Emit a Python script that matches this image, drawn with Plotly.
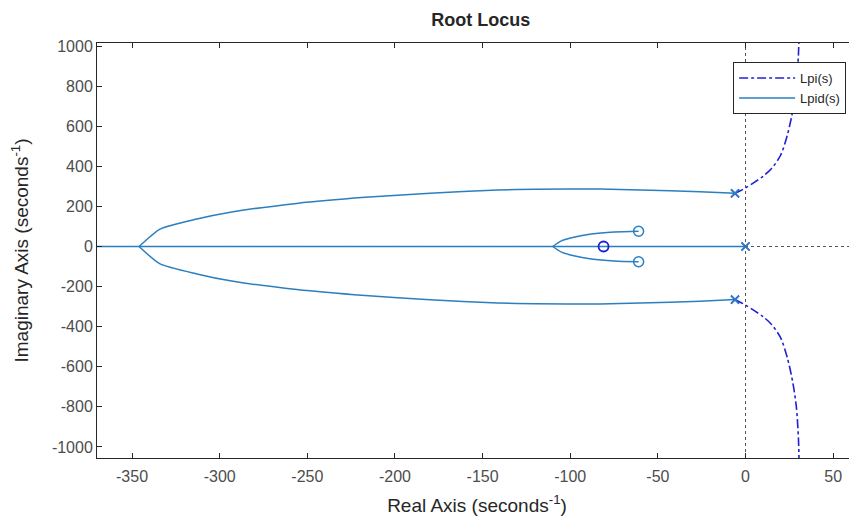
import plotly.graph_objects as go

# ---- data ----
# Lpid(s) root locus branches
lpid_outer_re = [-6, -26, -60, -83, -120, -141.5, -180, -217, -256, -294, -313, -334, -346]
lpid_outer_im = [265, 273, 282, 287, 286, 282, 266, 245, 215, 171, 137, 87, 0]
lpid_inner_re = [-110, -105, -98, -88, -75, -61]
lpid_inner_im = [0, 28, 46, 62, 72, 76]
lpid_axis_re = [-400, -346, -110, -81, 0]
lpid_axis_im = [0, 0, 0, 0, 0]
lpid_pole_re = [-6, -6, 0]
lpid_pole_im = [265, -265, 0]
lpid_zero_re = [-61, -61]
lpid_zero_im = [76, -76]

# Lpi(s) root locus branches
lpi_re = [-6, -3, 0, 5, 10, 15, 20, 24, 27, 29, 30.2, 30.6]
lpi_im = [265, 278, 292, 320, 350, 390, 455, 560, 680, 800, 960, 1100]
lpi_pole_re = [-6, -6, 0]
lpi_pole_im = [265, -265, 0]
lpi_zero_re = [-81]
lpi_zero_im = [0]

x_ticks = [-350, -300, -250, -200, -150, -100, -50, 0, 50]
y_ticks = [-1000, -800, -600, -400, -200, 0, 200, 400, 600, 800, 1000]
x_range = [-370, 63.6]
y_range = [-1055, 1015]

LPID = "#2a7fc0"
LPI = "#2020d8"
GRAY = "#555555"
FONT = "Liberation Sans, Arial, sans-serif"

fig = go.Figure()

# reference dotted axes lines
fig.add_trace(go.Scatter(x=[0, 0], y=[y_range[0], y_range[1]], mode="lines",
                         line=dict(color=GRAY, width=1, dash="dot"), showlegend=False, hoverinfo="skip"))
fig.add_trace(go.Scatter(x=[x_range[0], x_range[1]], y=[0, 0], mode="lines",
                         line=dict(color=GRAY, width=1, dash="dot"), showlegend=False, hoverinfo="skip"))

# Lpi(s)
fig.add_trace(go.Scatter(x=lpi_re, y=lpi_im, mode="lines", name="Lpi(s)", legendgroup="lpi",
                         line=dict(color=LPI, width=1.6, dash="dashdot", shape="spline", smoothing=0.8)))
fig.add_trace(go.Scatter(x=lpi_re, y=[-v for v in lpi_im], mode="lines", legendgroup="lpi", showlegend=False,
                         line=dict(color=LPI, width=1.6, dash="dashdot", shape="spline", smoothing=0.8)))

# Lpid(s)
fig.add_trace(go.Scatter(x=lpid_outer_re, y=lpid_outer_im, mode="lines", name="Lpid(s)", legendgroup="lpid",
                         line=dict(color=LPID, width=1.5, shape="spline", smoothing=0.6)))
fig.add_trace(go.Scatter(x=lpid_outer_re, y=[-v for v in lpid_outer_im], mode="lines", legendgroup="lpid",
                         showlegend=False, line=dict(color=LPID, width=1.5, shape="spline", smoothing=0.6)))
fig.add_trace(go.Scatter(x=lpid_inner_re, y=lpid_inner_im, mode="lines", legendgroup="lpid",
                         showlegend=False, line=dict(color=LPID, width=1.5, shape="spline", smoothing=0.8)))
fig.add_trace(go.Scatter(x=lpid_inner_re, y=[-v for v in lpid_inner_im], mode="lines", legendgroup="lpid",
                         showlegend=False, line=dict(color=LPID, width=1.5, shape="spline", smoothing=0.8)))
fig.add_trace(go.Scatter(x=lpid_axis_re, y=lpid_axis_im, mode="lines", legendgroup="lpid",
                         showlegend=False, line=dict(color=LPID, width=1.5)))

# markers
fig.add_trace(go.Scatter(x=lpi_pole_re, y=lpi_pole_im, mode="markers", showlegend=False,
                         marker=dict(symbol="x-thin-open", size=8, color=LPI, line=dict(color=LPI, width=1.5))))
fig.add_trace(go.Scatter(x=lpi_zero_re, y=lpi_zero_im, mode="markers", showlegend=False,
                         marker=dict(symbol="circle-open", size=10, color=LPI, line=dict(color=LPI, width=1.8))))
fig.add_trace(go.Scatter(x=lpid_pole_re, y=lpid_pole_im, mode="markers", showlegend=False,
                         marker=dict(symbol="x-thin-open", size=8, color=LPID, line=dict(color=LPID, width=1.5))))
fig.add_trace(go.Scatter(x=lpid_zero_re, y=lpid_zero_im, mode="markers", showlegend=False,
                         marker=dict(symbol="circle-open", size=10, color=LPID, line=dict(color=LPID, width=1.5))))

axis_common = dict(showgrid=False, zeroline=False, showline=True, linecolor="#262626", linewidth=1,
                   ticks="inside", ticklen=5, tickcolor="#262626", automargin=False,
                   tickfont=dict(family=FONT, size=16, color="#4d4d4d"))

# page body adds an 8px offset, so the figure is sized 8px smaller
fig.update_layout(
    width=849, height=511,
    margin=dict(l=89, r=0, t=35, b=61),
    paper_bgcolor="white", plot_bgcolor="white",
    font=dict(family=FONT, color="#262626"),
    title=dict(text="<b>Root Locus</b>", x=0.505, xref="paper", xanchor="center",
               y=1 - 12 / 511, yref="container", yanchor="middle",
               font=dict(size=18, color="#262626")),
    xaxis=dict(range=x_range, tickvals=x_ticks, ticktext=[str(v) for v in x_ticks], mirror="ticks",
               ticklabelstandoff=4,
               title=dict(text="Real Axis (seconds<sup>-1</sup>)", font=dict(size=19, color="#262626"), standoff=14),
               **axis_common),
    yaxis=dict(range=y_range, tickvals=y_ticks, ticktext=[str(v) for v in y_ticks], mirror=False,
               title=dict(text="Imaginary Axis (seconds<sup>-1</sup>)", font=dict(size=19, color="#262626"), standoff=18),
               **axis_common),
    legend=dict(x=0.837, y=0.954, xanchor="left", yanchor="top", bordercolor="#262626", borderwidth=1,
                bgcolor="white", font=dict(size=13, color="#262626"), tracegroupgap=0,
                itemwidth=56),
    showlegend=True,
)

fig.write_html("out.html")
